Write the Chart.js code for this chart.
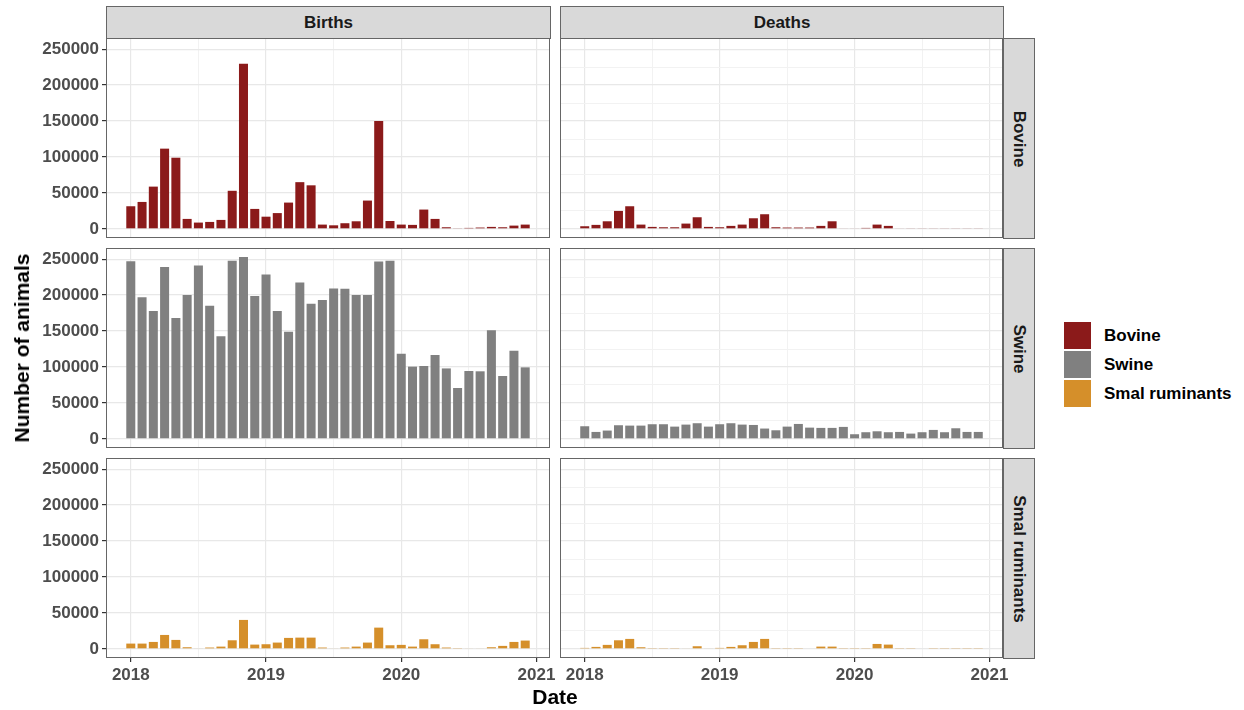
<!DOCTYPE html>
<html>
<head>
<meta charset="utf-8">
<script src="https://cdn.jsdelivr.net/npm/chart.js@4.4.1/dist/chart.umd.min.js"></script>
<style>
  body { margin: 0; background: #fff; }
  #wrap { position: relative; width: 1244px; height: 710px; background: #fff; font-family: "Liberation Sans", Arial, sans-serif; }
  canvas { position: absolute; }
  .strip { position: absolute; background: #d9d9d9; border: 1px solid #666; box-sizing: border-box;
           display: flex; align-items: center; justify-content: center; font-weight: bold; font-size: 17px; color: #1a1a1a; }
  .rstrip span { transform: rotate(90deg); white-space: nowrap; }
  .title { position: absolute; font-weight: bold; font-size: 21px; color: #000; white-space: nowrap; }
  .leg { position: absolute; left: 1064px; width: 27px; height: 27px; }
  .legt { position: absolute; left: 1104px; font-weight: bold; font-size: 17px; color: #000; line-height: 20px; }
</style>
</head>
<body>
<div id="wrap">
  <div class="strip" style="left:106px;top:6px;width:445px;height:33px;">Births</div>
  <div class="strip" style="left:560px;top:6px;width:444px;height:33px;">Deaths</div>
  <div class="strip rstrip" style="left:1003px;top:38px;width:32px;height:201px;"><span>Bovine</span></div>
  <div class="strip rstrip" style="left:1003px;top:248px;width:32px;height:201px;"><span>Swine</span></div>
  <div class="strip rstrip" style="left:1003px;top:458px;width:32px;height:201px;"><span>Smal ruminants</span></div>

  <canvas id="c00" width="570" height="200" style="left:0px;top:38px;"></canvas>
  <canvas id="c01" width="463" height="200" style="left:560px;top:38px;"></canvas>
  <canvas id="c10" width="570" height="200" style="left:0px;top:248px;"></canvas>
  <canvas id="c11" width="463" height="200" style="left:560px;top:248px;"></canvas>
  <canvas id="c20" width="570" height="230" style="left:0px;top:458px;"></canvas>
  <canvas id="c21" width="463" height="230" style="left:560px;top:458px;"></canvas>

  <div class="title" style="left:22px;top:348px;transform:translate(-50%,-50%) rotate(-90deg);">Number of animals</div>
  <div class="title" style="left:555px;top:697px;transform:translate(-50%,-50%);">Date</div>

  <div class="leg" style="top:322px;background:#8b1a1a;"></div>
  <div class="leg" style="top:351px;background:#808080;"></div>
  <div class="leg" style="top:380px;background:#d58f2a;"></div>
  <div class="legt" style="top:326px;">Bovine</div>
  <div class="legt" style="top:355px;">Swine</div>
  <div class="legt" style="top:384px;">Smal ruminants</div>
</div>
<script>
// monthly totals, Jan 2018 .. Dec 2020
var months = ["2018-01","2018-02","2018-03","2018-04","2018-05","2018-06","2018-07","2018-08","2018-09","2018-10","2018-11","2018-12",
              "2019-01","2019-02","2019-03","2019-04","2019-05","2019-06","2019-07","2019-08","2019-09","2019-10","2019-11","2019-12",
              "2020-01","2020-02","2020-03","2020-04","2020-05","2020-06","2020-07","2020-08","2020-09","2020-10","2020-11","2020-12"];
var yearLabels = ["2018", "2019", "2020", "2021"];
var yTicks = [0, 50000, 100000, 150000, 200000, 250000];

var birthsBovine = [31500, 37500, 58800, 111600, 99000, 13900, 8800, 9700, 12500, 53000, 229600, 27800,
                    17000, 22000, 36600, 65000, 60600, 6000, 5000, 7900, 10600, 39400, 150000, 11000,
                    6000, 5600, 26900, 13900, 2300, 1000, 1400, 1900, 2800, 2300, 4600, 6000];
var birthsSwine = [247000, 197000, 178000, 239000, 168000, 200000, 241000, 185000, 142600, 247700, 252800, 198600,
                   228700, 177800, 149000, 217600, 188000, 193000, 209000, 208800, 200000, 200000, 246800, 247700,
                   118500, 100500, 101400, 116700, 98000, 70800, 94400, 94000, 151000, 87500, 122700, 99500];
var birthsSmall = [7400, 7400, 9700, 19400, 12500, 2300, 900, 1900, 3200, 12000, 40300, 6000,
                   6500, 8800, 15300, 15700, 15700, 1900, 900, 1900, 3200, 8800, 29600, 5100,
                   5600, 3200, 13400, 6500, 1900, 500, 900, 900, 2300, 4200, 9700, 11600];
var deathsBovine = [3700, 5600, 10600, 25000, 31500, 6000, 2800, 2300, 2300, 7400, 16200, 2800,
                    2300, 4200, 6000, 14800, 20400, 2300, 1900, 1900, 1900, 4200, 10600, 900,
                    900, 1400, 6000, 4200, 900, 700, 700, 700, 700, 700, 700, 700];
var deathsSwine = [17600, 9700, 11600, 19000, 18500, 18500, 20400, 20400, 17100, 19900, 21800, 17100,
                   20400, 21800, 19900, 19400, 14400, 12000, 17100, 20800, 15700, 15300, 15300, 16700,
                   6500, 9300, 10600, 9300, 9700, 7400, 9300, 12500, 9300, 14800, 9700, 9700];
var deathsSmall = [1400, 2800, 5600, 12000, 13900, 2300, 500, 500, 500, 900, 3700, 900,
                   1400, 2800, 5100, 9700, 13900, 500, 500, 500, 0, 3200, 3200, 500,
                   500, 500, 6900, 6000, 500, 500, 0, 500, 500, 500, 500, 500];

var colors = { bovine: "#8b1a1a", swine: "#808080", small: "#d58f2a" };

Chart.defaults.font.family = '"Liberation Sans", Arial, sans-serif';

var panelBorder = {
    id: "panelBorder",
    afterDraw: function(chart) {
        var a = chart.chartArea, ctx = chart.ctx;
        ctx.save();
        ctx.strokeStyle = "#666";
        ctx.lineWidth = 1;
        ctx.strokeRect(a.left + 0.5, a.top + 0.5, a.right - a.left - 1, a.bottom - a.top - 1);
        ctx.restore();
    }
};

function makePanel(id, values, color, showY, showX) {
    var tickFont = { size: 17, weight: "bold" };
    new Chart(document.getElementById(id), {
        type: "bar",
        data: {
            datasets: [{
                data: values.map(function(v, i) { return { x: i, y: v }; }),
                backgroundColor: color,
                barPercentage: 0.8,
                categoryPercentage: 1
            }]
        },
        options: {
            responsive: false,
            animation: false,
            layout: { padding: { left: 0, right: 20, top: 0, bottom: 0 } },
            plugins: { legend: { display: false }, tooltip: { enabled: false } },
            scales: {
                x: {
                    type: "linear", min: -2.2, max: 37.2, offset: false,
                    afterBuildTicks: function(s) {
                        var t = [];
                        for (var m = 0; m <= months.length; m += 6) t.push({ value: m });
                        s.ticks = t;
                    },
                    afterFit: function(s) { s.height = showX ? 30 : 0; s.paddingLeft = 0; s.paddingRight = 0; },
                    ticks: {
                        display: showX, autoSkip: false, maxRotation: 0, padding: 3,
                        color: "#4d4d4d", font: tickFont,
                        callback: function(v) { return v % 12 === 0 ? yearLabels[v / 12] : ""; }
                    },
                    grid: {
                        offset: false, drawTicks: showX, tickLength: 4,
                        color: function(c) { return c.tick && c.tick.value % 12 === 0 ? "#e8e8e8" : "#f2f2f2"; },
                        lineWidth: function(c) { return c.tick && c.tick.value % 12 === 0 ? 1.2 : 1; },
                        tickColor: function(c) { return c.tick && c.tick.value % 12 === 0 ? "#333" : "rgba(0,0,0,0)"; }
                    },
                    border: { display: false }
                },
                y: {
                    min: -12640, max: 265440,
                    afterBuildTicks: function(s) {
                        var t = [];
                        for (var v = 0; v <= 250000; v += 25000) t.push({ value: v });
                        s.ticks = t;
                    },
                    afterFit: function(s) { s.width = showY ? 106 : 0; s.paddingTop = 0; s.paddingBottom = 0; },
                    ticks: {
                        display: showY, padding: 3, color: "#4d4d4d", font: tickFont,
                        callback: function(v) { return yTicks.indexOf(v) >= 0 ? String(v) : ""; }
                    },
                    grid: {
                        drawTicks: showY, tickLength: 4,
                        color: function(c) { return c.tick && c.tick.value % 50000 === 0 ? "#e8e8e8" : "#f2f2f2"; },
                        lineWidth: function(c) { return c.tick && c.tick.value % 50000 === 0 ? 1.2 : 1; },
                        tickColor: function(c) { return c.tick && c.tick.value % 50000 === 0 ? "#333" : "rgba(0,0,0,0)"; }
                    },
                    border: { display: false }
                }
            }
        },
        plugins: [panelBorder]
    });
}

makePanel("c00", birthsBovine, colors.bovine, true, false);
makePanel("c01", deathsBovine, colors.bovine, false, false);
makePanel("c10", birthsSwine, colors.swine, true, false);
makePanel("c11", deathsSwine, colors.swine, false, false);
makePanel("c20", birthsSmall, colors.small, true, true);
makePanel("c21", deathsSmall, colors.small, false, true);
</script>
</body>
</html>
